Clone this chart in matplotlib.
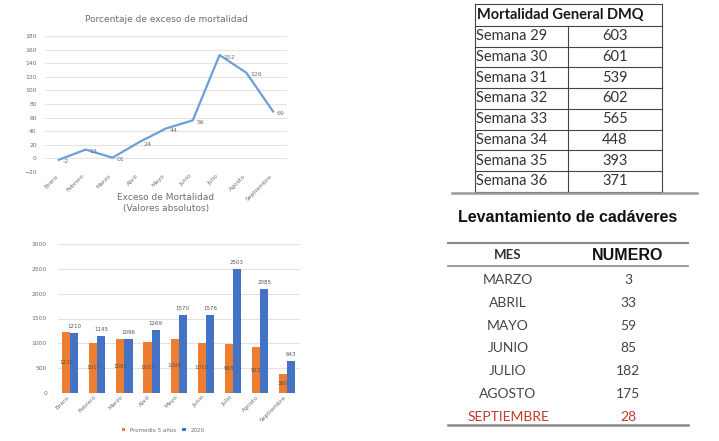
import numpy as np
import matplotlib
matplotlib.use("Agg")
import matplotlib.pyplot as plt

# --- data -------------------------------------------------------------
meses = ["Enero", "Febrero", "Marzo", "Abril", "Mayo", "Junio", "Julio", "Agosto", "Septiembre"]
exceso_pct = [-2, 13, 1, 24, 44, 56, 152, 126, 69]

promedio_5 = [1235, 1013, 1085, 1023, 1090, 1010, 993, 922, 380]
valores_2020 = [1210, 1145, 1096, 1269, 1570, 1576, 2503, 2085, 643]

semanas = ["Semana 29", "Semana 30", "Semana 31", "Semana 32",
           "Semana 33", "Semana 34", "Semana 35", "Semana 36"]
mortalidad_dmq = [603, 601, 539, 602, 565, 448, 393, 371]

lev_meses = ["MARZO", "ABRIL", "MAYO", "JUNIO", "JULIO", "AGOSTO", "SEPTIEMBRE"]
lev_numero = [3, 33, 59, 85, 182, 175, 28]

W, H = 719, 441
fig = plt.figure(figsize=(W / 100, H / 100), dpi=100)
fig.patch.set_facecolor("white")

def box(x0, y0, x1, y1):
    # pixel box (top-left origin) -> figure fraction
    return [x0 / W, (H - y1) / H, (x1 - x0) / W, (y1 - y0) / H]

grey_txt = "#6e6e6e"
grid_c = "#e3e3e3"

# --- line chart -------------------------------------------------------
ax1 = fig.add_axes(box(45, 36, 287, 172))
x = np.arange(len(meses))
ax1.plot(x, exceso_pct, color="#6a9fd8", lw=1.6)
for xi, v in zip(x, exceso_pct):
    ax1.text(xi + 0.15, v - 3, f"{v:02d}" if v >= 0 else str(v), fontsize=4.5,
             color=grey_txt, va="center")
ax1.set_xlim(-0.52, 8.52)
ax1.set_ylim(-20, 180)
ax1.set_yticks(np.arange(-20, 181, 20))
ax1.set_xticks(x)
ax1.set_xticklabels(meses, rotation=45, ha="right", fontsize=4.3, color=grey_txt)
ax1.tick_params(axis="y", labelsize=4.3, colors=grey_txt, length=0, pad=6)
ax1.tick_params(axis="x", length=0, pad=1)
ax1.grid(axis="y", color=grid_c, lw=0.8)
ax1.set_axisbelow(True)
for s in ax1.spines.values():
    s.set_visible(False)
fig.text(166 / W, 1 - 19 / H, "Porcentaje de exceso de mortalidad", ha="center",
         va="center", fontsize=6.5, color=grey_txt)

# --- bar chart --------------------------------------------------------
ax2 = fig.add_axes(box(58, 244, 300, 393))
bw = 0.3
b1 = ax2.bar(x - bw / 2, promedio_5, bw, color="#ed7d31", label="Promedio 5 años")
b2 = ax2.bar(x + bw / 2, valores_2020, bw, color="#4472c4", label="2020")
for xi, v in zip(x, promedio_5):
    ax2.text(xi - bw / 2, v / 2, str(v), fontsize=4, color="#555555", ha="center", va="center")
for xi, v in zip(x, valores_2020):
    ax2.text(xi + bw / 2, v + 80, str(v), fontsize=4, color="#555555", ha="center", va="bottom")
ax2.set_xlim(-0.45, 8.47)
ax2.set_ylim(0, 3000)
ax2.set_yticks(np.arange(0, 3001, 500))
ax2.set_xticks(x)
ax2.set_xticklabels(meses, rotation=45, ha="right", fontsize=4.3, color=grey_txt)
ax2.tick_params(axis="y", labelsize=4.3, colors=grey_txt, length=0, pad=8)
ax2.tick_params(axis="x", length=0, pad=1)
ax2.grid(axis="y", color=grid_c, lw=0.8)
ax2.set_axisbelow(True)
for s in ax2.spines.values():
    s.set_visible(False)
fig.text(166 / W, 1 - 203 / H, "Exceso de Mortalidad\n(Valores absolutos)", ha="center",
         va="center", fontsize=6.5, color=grey_txt, linespacing=1.3)
fig.legend(handles=[b1, b2], loc="center", bbox_to_anchor=(163 / W, 1 - 430 / H),
           ncol=2, fontsize=4, frameon=False, handlelength=0.6, handleheight=0.6,
           columnspacing=1.2, labelcolor=grey_txt)

# --- tables (pixel overlay) ------------------------------------------
ov = fig.add_axes([0, 0, 1, 1])
ov.set_xlim(0, W)
ov.set_ylim(H, 0)
ov.axis("off")

# table 1
tl, tm, tr = 475, 568, 662
top, head_b, pitch = 4, 26, 20.7
ov.text(tl + 2, (top + head_b) / 2, "Mortalidad General DMQ", fontsize=10.5,
        fontweight="bold", family="Lato", va="center", ha="left", color="#1a1a1a")
lines_y = [top, head_b] + [head_b + pitch * (i + 1) for i in range(len(semanas))]
for yy in lines_y:
    ov.plot([tl, tr], [yy, yy], color="#444444", lw=0.8)
ov.plot([tl, tl], [top, lines_y[-1]], color="#444444", lw=0.8)
ov.plot([tr, tr], [top, lines_y[-1]], color="#444444", lw=0.8)
ov.plot([tm, tm], [head_b, lines_y[-1]], color="#444444", lw=0.8)
for i, (s, v) in enumerate(zip(semanas, mortalidad_dmq)):
    yc = head_b + pitch * (i + 0.5)
    ov.text(tl + 1, yc, s, fontsize=10.5, family="Lato", va="center", ha="left", color="#333333")
    ov.text((tm + tr) / 2, yc, str(v), fontsize=10.5, family="Lato", va="center",
            ha="center", color="#333333")

ov.plot([452, 697], [193, 193], color="#9a9a9a", lw=1.8)

# table 2
ov.text(568, 218, "Levantamiento de cadáveres", fontsize=11.5, fontweight="bold",
        family="Liberation Sans", ha="center", va="center", color="#111111")
ov.plot([448, 688], [243, 243], color="#8a8a8a", lw=1.5)
ov.text(508, 255, "MES", fontsize=9.5, fontweight="bold", family="Lato", ha="center",
        va="center", color="#333333")
ov.plot([448, 688], [266, 266], color="#8a8a8a", lw=1.2)
ov.text(628, 255, "NUMERO", fontsize=11.5, fontweight="bold", family="Liberation Sans",
        ha="center", va="center", color="#111111")
for i, (m, n) in enumerate(zip(lev_meses, lev_numero)):
    yc = 280 + 22.8 * i
    c = "#c0392b" if m == "SEPTIEMBRE" else "#444444"
    ov.text(508, yc, m, fontsize=10, family="Lato", ha="center", va="center", color=c)
    ov.text(628, yc, str(n), fontsize=10, family="Lato", ha="center", va="center", color=c)
ov.plot([448, 688], [425, 425], color="#8a8a8a", lw=1.8)

fig.savefig("out.png", dpi=100)
